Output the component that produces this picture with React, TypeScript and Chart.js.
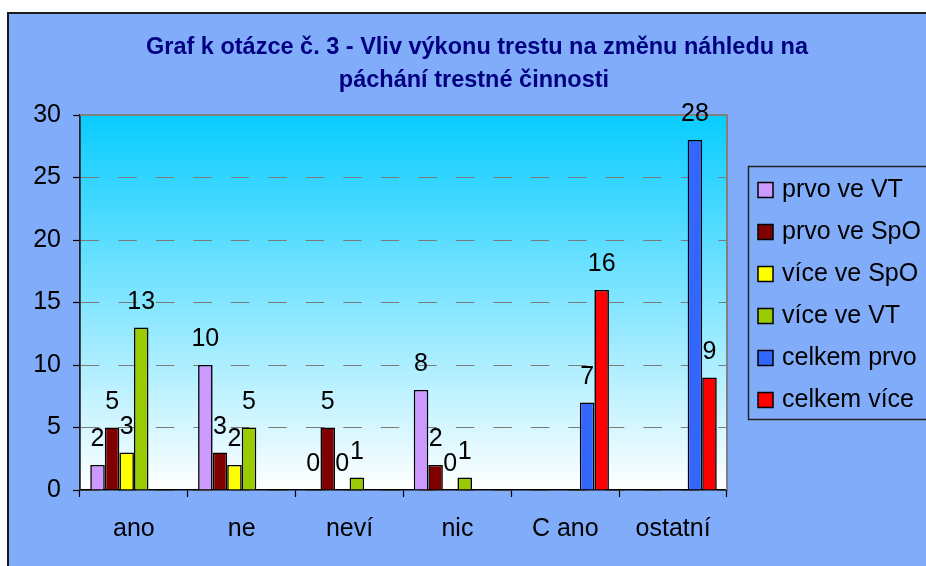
import React, { useEffect, useRef } from 'react';
import { Chart, registerables } from 'chart.js';

Chart.register(...registerables);

const categories = ['ano', 'ne', 'neví', 'nic', 'C ano', 'ostatní'];
const seriesNames = ['prvo ve VT', 'prvo ve SpO', 'více ve SpO', 'více ve VT', 'celkem prvo', 'celkem více'];
const prvoVeVT = [2, 10, 0, 8, null, null];
const prvoVeSpO = [5, 3, 5, 2, null, null];
const viceVeSpO = [3, 2, 0, 0, null, null];
const viceVeVT = [13, 5, 1, 1, null, null];
const celkemPrvo = [null, null, null, null, 7, 28];
const celkemVice = [null, null, null, null, 16, 9];
const seriesColors = ['#CC99FF', '#800000', '#FFFF00', '#99CC00', '#3366FF', '#FF0000'];
const yMin = 0;
const yMax = 30;
const yStep = 5;
const titleLines = ['Graf k otázce č. 3 - Vliv výkonu trestu na změnu náhledu na', 'páchání trestné činnosti'];

const FONT = '"Liberation Sans", Arial, sans-serif';

const decor = {
  id: 'decor',
  beforeDraw(chart: any) {
    const { ctx, width, height, chartArea: a } = chart;
    ctx.save();
    ctx.fillStyle = '#ffffff';
    ctx.fillRect(0, 0, width, height);
    ctx.fillStyle = '#80ACF9';
    ctx.fillRect(7, 12, width - 7, height - 12);
    ctx.fillStyle = '#1a1a1a';
    ctx.fillRect(7, 12, 2, height - 12);
    ctx.fillRect(7, 12, width - 7, 2);
    const g = ctx.createLinearGradient(0, a.top, 0, a.bottom);
    g.addColorStop(0, '#08CCFF');
    g.addColorStop(1, '#FFFFFF');
    ctx.fillStyle = g;
    ctx.fillRect(a.left, a.top, a.right - a.left, a.bottom - a.top);
    ctx.restore();
  },
  beforeDatasetsDraw(chart: any) {
    const { ctx, chartArea: a } = chart;
    ctx.save();
    ctx.strokeStyle = '#808080';
    ctx.lineWidth = 2;
    ctx.beginPath();
    ctx.moveTo(a.left, a.top);
    ctx.lineTo(a.right, a.top);
    ctx.lineTo(a.right, a.bottom);
    ctx.stroke();
    ctx.restore();
  },
  afterDatasetsDraw(chart: any) {
    const { ctx } = chart;
    ctx.save();
    ctx.font = `25px ${FONT}`;
    ctx.fillStyle = '#000';
    ctx.textAlign = 'center';
    ctx.textBaseline = 'alphabetic';
    chart.data.datasets.forEach((ds: any, i: number) => {
      const meta = chart.getDatasetMeta(i);
      meta.data.forEach((el: any, j: number) => {
        const v = ds.data[j];
        if (v === null || v === undefined) return;
        ctx.fillText(String(v), el.x, el.y - 19);
      });
    });
    ctx.restore();
  },
  afterDraw(chart: any) {
    const { ctx } = chart;
    ctx.save();
    // title
    ctx.font = `bold 23.5px ${FONT}`;
    ctx.fillStyle = '#000080';
    ctx.textAlign = 'center';
    ctx.textBaseline = 'alphabetic';
    ctx.fillText(titleLines[0], 477, 54);
    ctx.fillText(titleLines[1], 474, 87);
    // legend
    ctx.strokeStyle = '#222';
    ctx.lineWidth = 1.5;
    ctx.strokeRect(748.5, 166.5, 220, 253);
    ctx.font = `25px ${FONT}`;
    ctx.textAlign = 'left';
    chart.data.datasets.forEach((ds: any, i: number) => {
      const cy = 190 + i * 42;
      ctx.fillStyle = ds.backgroundColor;
      ctx.fillRect(758, cy - 7.5, 15, 15);
      ctx.strokeStyle = '#000';
      ctx.lineWidth = 1.5;
      ctx.strokeRect(758, cy - 7.5, 15, 15);
      ctx.fillStyle = '#000';
      ctx.fillText(ds.label, 782, cy + 7);
    });
    ctx.restore();
  },
};

export default function App() {
  const ref = useRef<HTMLCanvasElement | null>(null);
  useEffect(() => {
    if (!ref.current) return;
    const series = [prvoVeVT, prvoVeSpO, viceVeSpO, viceVeVT, celkemPrvo, celkemVice];
    const chart = new Chart(ref.current, {
      type: 'bar',
      data: {
        labels: categories,
        datasets: series.map((d, i) => ({
          label: seriesNames[i],
          data: d,
          backgroundColor: seriesColors[i],
          borderColor: '#000',
          borderWidth: 1.6,
          categoryPercentage: 0.81,
          barPercentage: 1,
        })),
      },
      options: {
        responsive: false,
        animation: false,
        events: [],
        layout: { padding: { top: 115, right: 199, bottom: 0, left: 0 } },
        plugins: {
          legend: { display: false },
          title: { display: false },
          tooltip: { enabled: false },
        },
        scales: {
          x: {
            grid: {
              display: true,
              drawOnChartArea: false,
              drawTicks: true,
              tickLength: 7,
              tickColor: '#000',
              tickWidth: 1.2,
              offset: true,
            },
            border: { display: true, color: '#000', width: 1.5 },
            ticks: {
              font: { family: FONT, size: 25 },
              color: '#000',
              padding: 17,
              maxRotation: 0,
              autoSkip: false,
            },
            afterFit: (s: any) => {
              s.height = 76;
            },
          },
          y: {
            min: yMin,
            max: yMax,
            grid: {
              color: '#7a7a7a',
              lineWidth: 1,
              drawTicks: true,
              tickLength: 7,
              tickColor: '#000',
              tickWidth: 1.2,
              tickBorderDash: [],
            },
            border: { display: true, color: '#222', width: 1.8, dash: [18.5, 19] },
            ticks: {
              stepSize: yStep,
              font: { family: FONT, size: 25 },
              color: '#000',
              padding: 12,
            },
            afterFit: (s: any) => {
              s.width = 80;
            },
          },
        },
      },
      plugins: [decor],
    });
    return () => chart.destroy();
  }, []);
  return (
    <div style={{ position: 'absolute', left: 0, top: 0, width: 926, height: 566 }}>
      <canvas ref={ref} width={926} height={566} style={{ display: 'block' }} />
    </div>
  );
}
